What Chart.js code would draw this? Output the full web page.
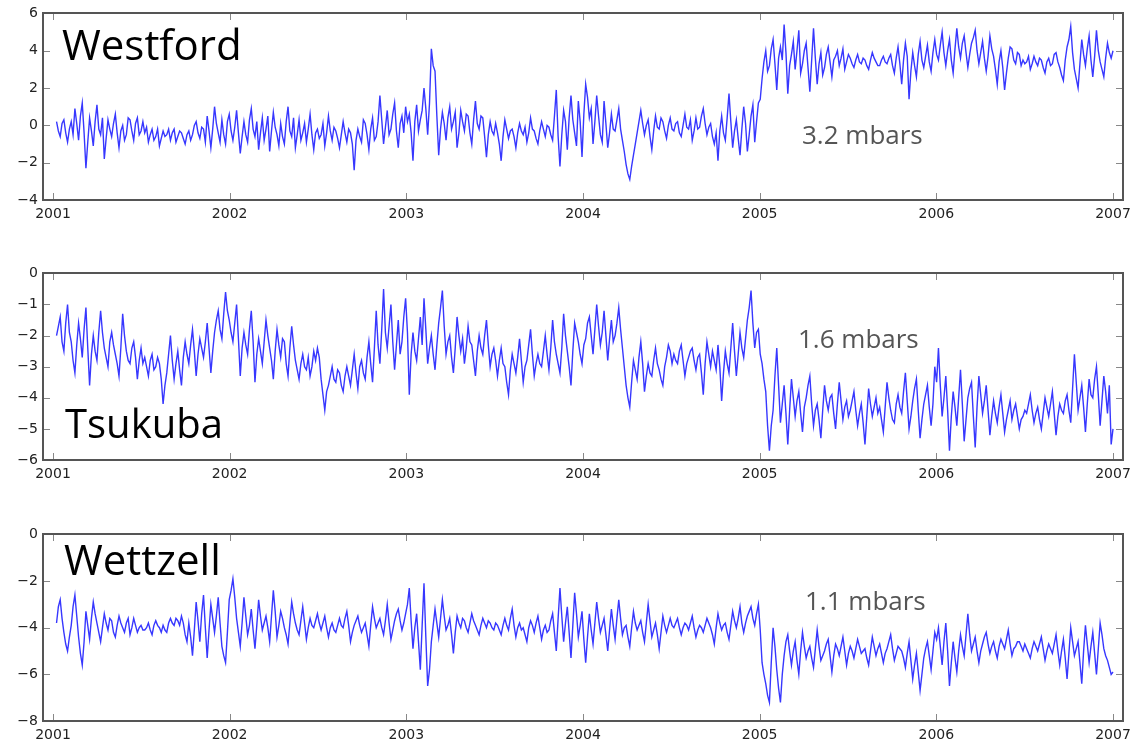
<!DOCTYPE html>
<html>
<head>
<meta charset="utf-8">
<script src="https://cdn.jsdelivr.net/npm/chart.js@4.4.1/dist/chart.umd.min.js"></script>
<style>
    html, body { margin: 0; padding: 0; background: #fff; }
    body { width: 1142px; height: 742px; position: relative; overflow: hidden; }
    canvas { position: absolute; left: 0; }
</style>
</head>
<body>
<canvas id="westford" width="1142" height="230" style="top:0px"></canvas>
<canvas id="tsukuba" width="1142" height="230" style="top:260px"></canvas>
<canvas id="wettzell" width="1142" height="230" style="top:521px"></canvas>
<script>
// year ticks shared by all three panels
const years = [2001, 2002, 2003, 2004, 2005, 2006, 2007];
// first and last sample (decimal year), samples are evenly spaced in between
const firstSample = 2001.02;
const lastSample = 2007.0;

// one row = half a year, 48 samples (mbar)
const westford = [
    0.2, -0.3, -0.6, 0.1, 0.3, -0.4, -0.9, -0.2, 0.2, -0.5, 0.9, 0.1, -0.8, 0.5, 1.2, -0.4, -2.3, -0.9, 0.4, -0.3, -1.1, 0.2, 1.1, -0.2, -0.5, 0.4, -1.8, -0.7, 0.3, -0.2, -0.6, 0.1, 0.6, -0.4, -1.2, -0.3, 0.0, -0.8, -0.5, 0.4, 0.3, -0.3, -0.8, 0.1, 0.4, -0.5, -0.3, 0.2,
    -0.4, -0.1, -0.9, -0.5, -0.2, -0.8, -0.6, -0.2, -1.1, -0.7, -0.3, -0.6, -0.5, -0.2, -0.8, -0.4, -0.2, -0.9, -0.6, -0.3, -0.4, -0.7, -1.0, -0.5, -0.3, -0.8, -0.5, 0.0, 0.2, -0.4, -0.7, -0.1, -0.2, -0.9, 0.5, -0.3, -1.2, -0.2, 1.0, 0.1, -0.4, -0.9, 0.3, -0.5, -1.0, 0.2, 0.6, -0.3,
    -0.8, -0.1, 0.8, -0.4, -1.5, -0.6, 0.2, -0.5, -0.9, 0.3, 0.9, -0.2, -0.6, 0.2, -1.3, -0.4, 0.4, -0.8, -0.2, 0.5, -1.4, -0.3, 0.7, -0.1, -0.5, -1.1, 0.1, -0.6, -1.0, 0.2, 1.0, -0.3, -0.6, 0.4, -1.2, -0.5, 0.3, -0.8, -0.4, 0.1, -0.9, -0.2, 0.6, -0.5, -1.3, -0.4, -0.2, -0.7,
    -0.5, 0.1, -1.1, -0.4, 0.5, -0.3, -0.8, -0.1, -0.3, -0.7, -1.2, -0.5, 0.2, -0.4, -0.9, -0.2, -0.4, -1.0, -2.4, -0.8, -0.2, -0.6, -0.9, 0.3, 0.1, -0.5, -1.3, -0.2, 0.4, -0.8, -0.6, 0.2, 1.6, 0.3, -1.0, -0.1, 0.8, -0.5, -0.2, 0.6, 1.2, -0.3, -1.2, 0.1, 0.5, -0.4, 1.0, 0.2,
    0.6, -0.4, -1.9, 0.2, 1.1, -0.3, 0.3, 0.8, 2.0, 0.9, -0.5, 1.2, 4.1, 3.2, 2.9, 0.5, -1.6, -0.2, 0.7, 0.1, -0.8, 0.4, 1.0, -0.2, 0.2, 0.7, -1.2, -0.4, 0.8, 0.2, -0.3, 0.6, 0.5, -0.4, -1.0, 0.3, 1.3, 0.1, -0.2, 0.5, 0.4, -0.6, -1.7, -0.5, 0.2, -0.3, -0.5, 0.1,
    -0.4, -1.0, -1.9, -0.6, 0.3, -0.2, -0.7, -0.3, -0.2, -0.6, -1.2, -0.4, 0.1, -0.3, -0.5, -0.1, -0.9, -0.4, 0.4, -0.2, -0.3, -0.7, -1.0, -0.3, 0.2, -0.2, -0.6, 0.0, -0.1, -0.5, -0.8, 0.5, 1.9, -0.6, -2.2, -0.5, 0.8, 0.2, -1.3, 0.4, 1.6, 0.3, -0.4, -1.1, 1.3, 0.2, -1.7, 0.6,
    2.2, 1.5, 0.4, 0.9, -1.0, 0.2, 1.6, 0.5, -0.5, -0.9, 1.3, 0.1, -1.2, -0.4, 0.6, -0.2, -0.3, 0.3, 0.9, -0.2, -0.8, -1.4, -2.1, -2.6, -2.9, -2.2, -1.6, -1.0, -0.4, 0.2, 0.8, 0.1, -0.5, 0.0, 0.3, -0.6, -1.3, -0.3, 0.5, -0.1, -0.2, 0.4, 0.2, -0.3, -0.7, 0.0, 0.4, -0.2,
    -0.3, 0.1, 0.2, -0.4, -0.6, 0.0, 0.6, -0.1, -0.2, 0.3, -0.8, -0.3, 0.4, -0.2, -0.1, 0.5, 0.9, 0.1, -0.5, -0.1, 0.1, -0.6, -1.0, -0.4, -1.9, -0.3, 0.5, -0.4, -0.8, 0.4, 1.7, 0.2, -1.2, -0.3, 0.3, -0.7, -1.6, -0.2, 1.0, 0.1, -1.4, -0.5, 0.5, 1.1, -0.9, 0.2, 1.2, 1.4,
    2.5, 3.4, 4.0, 2.9, 3.2, 4.1, 4.6, 3.3, 1.9, 3.6, 4.2, 3.5, 5.4, 3.9, 1.7, 3.2, 3.8, 4.5, 3.0, 4.0, 5.1, 2.8, 3.3, 4.0, 4.4, 3.1, 1.8, 3.5, 5.2, 3.6, 2.2, 3.3, 3.9, 2.7, 3.1, 3.8, 4.2, 3.4, 2.6, 3.5, 3.7, 4.0, 3.2, 3.6, 4.1, 3.0, 3.4, 3.8,
    3.6, 3.3, 3.1, 3.5, 3.8, 3.4, 3.3, 3.6, 3.5, 3.2, 3.0, 3.5, 3.9, 3.6, 3.4, 3.2, 3.2, 3.5, 3.7, 3.4, 3.3, 3.6, 3.8, 3.2, 2.8, 3.6, 4.2, 3.3, 2.2, 3.5, 4.4, 3.7, 1.4, 2.9, 3.9, 3.2, 2.6, 3.8, 4.5, 3.5, 3.1, 3.7, 4.3, 3.4, 2.9, 3.9, 4.6, 3.8,
    3.5, 4.3, 5.0, 3.9, 3.2, 4.0, 4.6, 3.5, 2.8, 4.1, 5.2, 4.2, 3.6, 4.4, 4.8, 3.9, 3.1, 3.8, 4.4, 4.7, 5.1, 4.0, 3.3, 3.9, 4.5, 3.6, 2.9, 3.7, 4.8, 4.1, 3.7, 3.0, 2.2, 3.4, 4.0, 3.1, 1.9, 2.8, 3.6, 4.2, 4.1, 3.5, 3.3, 3.9, 3.8, 3.2, 3.5, 3.3,
    3.4, 3.7, 3.0, 3.3, 3.7, 3.4, 3.2, 3.6, 3.5, 3.1, 2.8, 3.4, 3.6, 3.2, 3.3, 3.8, 3.9, 3.4, 3.1, 2.7, 2.4, 3.5, 4.2, 4.6, 5.3, 3.9, 3.0, 2.5, 2.0, 3.3, 4.6, 3.8, 3.2, 4.1, 4.8, 3.5, 2.6, 3.7, 5.1, 4.0, 3.4, 3.0, 2.6, 3.6, 4.4, 3.9, 3.6, 4.0
];
const tsukuba = [
    -2.0, -1.7, -1.4, -2.2, -2.5, -1.6, -1.0, -1.9, -2.2, -2.8, -3.2, -2.3, -1.6, -2.1, -2.7, -1.8, -1.1, -2.4, -3.6, -2.6, -2.0, -2.5, -2.8, -1.9, -1.2, -1.9, -2.4, -2.7, -3.0, -2.2, -1.9, -2.3, -2.6, -2.9, -3.3, -2.4, -1.3, -2.0, -2.5, -2.8, -2.9, -2.4, -2.2, -2.7, -3.4, -2.8, -2.4, -2.9,
    -2.7, -3.0, -3.3, -2.8, -2.6, -3.1, -3.0, -2.7, -2.9, -3.4, -4.2, -3.6, -3.2, -2.6, -2.0, -2.8, -3.4, -2.9, -2.5, -3.1, -3.6, -2.7, -2.2, -2.6, -2.9, -2.3, -1.8, -2.5, -3.3, -2.6, -2.1, -2.4, -2.7, -2.2, -1.6, -2.4, -3.2, -2.5, -1.9, -1.5, -1.2, -1.8, -2.1, -1.3, -0.6, -1.2, -1.5, -1.9,
    -2.2, -1.6, -1.0, -2.1, -3.3, -2.4, -1.9, -2.3, -2.6, -1.8, -1.2, -2.2, -3.5, -2.6, -2.1, -2.5, -2.9, -2.2, -1.5, -2.0, -2.4, -2.8, -3.4, -2.5, -1.8, -2.3, -2.7, -2.1, -2.2, -2.9, -3.3, -2.4, -1.7, -2.3, -2.8, -3.1, -3.4, -2.9, -2.6, -3.0, -3.1, -2.7, -3.3, -3.0, -2.5, -2.8, -2.4, -2.7,
    -3.4, -3.9, -4.4, -3.8, -3.6, -3.3, -3.0, -3.4, -3.5, -3.1, -3.2, -3.6, -3.8, -3.3, -3.0, -3.3, -3.6, -3.1, -2.6, -3.2, -3.7, -3.0, -2.8, -3.2, -3.4, -2.7, -2.2, -2.9, -3.5, -2.4, -1.2, -2.3, -2.9, -1.8, -0.5, -1.9, -2.4, -1.7, -1.0, -2.2, -3.1, -2.3, -1.5, -2.6, -2.2, -1.4, -0.8, -1.9,
    -3.9, -2.6, -1.9, -2.5, -2.8, -2.1, -1.4, -2.3, -0.8, -1.8, -2.9, -2.4, -2.0, -2.6, -3.1, -2.3, -1.6, -1.1, -0.55, -1.7, -2.6, -2.2, -2.0, -2.7, -3.2, -2.4, -1.4, -2.0, -2.5, -2.1, -2.9, -2.4, -1.7, -2.2, -2.3, -2.8, -3.3, -2.5, -2.0, -2.4, -2.6, -2.0, -1.5, -2.3, -3.0, -2.6, -2.4, -2.8,
    -3.3, -2.8, -2.4, -2.9, -3.0, -3.5, -3.9, -3.1, -2.6, -2.9, -3.2, -2.7, -2.1, -2.8, -3.5, -3.0, -2.8, -2.3, -1.8, -2.6, -3.3, -2.9, -2.6, -2.9, -3.0, -2.5, -2.0, -2.6, -3.1, -2.4, -1.5, -2.2, -2.6, -2.9, -3.2, -2.4, -1.3, -2.0, -2.5, -3.0, -3.6, -2.5, -1.6, -1.9, -2.2, -2.6, -2.9, -2.3,
    -2.1, -1.6, -1.4, -2.0, -2.6, -1.8, -1.0, -1.7, -2.3, -1.9, -1.2, -2.0, -2.8, -2.1, -1.5, -2.2, -2.0, -1.6, -1.1, -1.8, -2.4, -3.0, -3.6, -4.0, -4.3, -3.5, -2.8, -3.1, -3.4, -2.7, -2.2, -2.9, -3.8, -3.3, -2.9, -3.2, -3.3, -2.8, -2.4, -2.9, -3.1, -3.4, -3.6, -3.0, -2.7, -2.3, -2.5, -2.9,
    -2.6, -2.8, -2.9, -2.5, -2.3, -2.8, -3.3, -2.9, -2.7, -2.5, -2.4, -2.8, -3.1, -2.7, -2.6, -3.2, -3.9, -2.9, -2.2, -2.6, -3.0, -2.5, -2.8, -3.1, -2.3, -3.0, -4.1, -3.2, -2.5, -2.9, -3.2, -2.4, -1.6, -2.5, -3.3, -2.6, -1.9, -2.4, -2.7, -2.1, -1.5, -1.1, -0.55, -1.6, -2.4, -1.9, -1.8, -2.6,
    -2.9, -3.4, -3.8, -4.9, -5.7, -4.9, -4.4, -3.3, -2.4, -3.6, -4.8, -4.2, -3.6, -4.5, -5.5, -4.4, -3.4, -4.0, -4.6, -4.1, -3.8, -4.5, -5.1, -4.3, -4.0, -3.6, -3.3, -4.2, -4.9, -4.4, -4.2, -4.7, -5.3, -4.4, -3.6, -4.1, -4.4, -4.0, -3.9, -4.5, -5.0, -4.2, -3.5, -4.1, -4.7, -4.3, -4.1, -4.6,
    -4.4, -4.1, -3.8, -4.4, -4.9, -4.5, -4.2, -4.8, -5.5, -4.6, -3.7, -4.2, -4.6, -4.3, -4.0, -4.5, -4.3, -4.7, -5.1, -4.3, -3.5, -4.0, -4.4, -4.7, -4.8, -4.2, -3.9, -4.3, -4.5, -3.8, -3.2, -4.1, -5.0, -4.6, -4.1, -3.7, -3.4, -4.4, -5.3, -4.7, -4.2, -3.9, -3.6, -4.3, -4.9, -4.2, -3.0, -3.5,
    -2.4, -3.6, -4.6, -4.0, -3.3, -4.4, -5.7, -4.6, -3.8, -4.3, -4.9, -4.0, -3.1, -4.2, -5.4, -4.7, -4.0, -3.7, -3.5, -4.6, -5.6, -4.3, -3.3, -3.9, -4.5, -4.1, -3.6, -4.4, -5.2, -4.6, -4.1, -4.5, -4.8, -4.3, -3.9, -4.5, -5.1, -4.7, -4.4, -4.1, -4.7, -4.4, -4.2, -4.6, -5.0, -4.7, -4.6, -4.4,
    -4.5, -4.2, -3.9, -4.4, -4.8, -4.5, -4.3, -4.7, -5.0, -4.5, -4.0, -4.3, -4.6, -4.2, -3.8, -4.5, -5.2, -4.6, -4.2, -4.4, -4.5, -4.1, -3.9, -4.4, -4.8, -3.7, -2.6, -3.5, -4.4, -4.0, -3.6, -4.3, -5.1, -4.2, -3.4, -3.9, -4.0, -3.4, -3.0, -3.9, -4.9, -4.1, -3.3, -3.8, -4.5, -3.6, -5.5, -5.0
];
const wettzell = [
    -3.8, -3.1, -2.8, -3.6, -4.2, -4.7, -5.0, -4.4, -3.9, -3.1, -2.6, -3.5, -4.4, -5.1, -5.6, -4.6, -3.3, -3.9, -4.5, -3.6, -2.9, -3.4, -3.8, -4.2, -4.6, -4.0, -3.4, -3.8, -4.1, -3.6, -3.7, -4.2, -4.4, -3.9, -3.5, -3.8, -4.0, -4.2, -3.8, -3.6, -4.3, -4.0, -3.6, -3.9, -4.2, -4.0, -3.9, -4.1,
    -4.1, -4.0, -3.8, -4.1, -4.3, -3.9, -3.7, -3.9, -4.0, -4.2, -3.9, -4.1, -4.2, -3.8, -3.6, -3.8, -3.9, -3.6, -3.7, -3.9, -3.5, -3.8, -4.3, -4.6, -3.8, -4.4, -5.2, -4.1, -2.9, -3.7, -4.6, -3.4, -2.6, -4.0, -5.3, -4.1, -3.0, -3.6, -4.2, -3.5, -2.7, -3.8, -4.8, -5.2, -5.5, -4.2, -2.8, -2.4,
    -1.9, -2.7, -3.6, -4.2, -4.8, -3.8, -2.7, -3.5, -4.3, -3.9, -3.2, -4.1, -4.9, -3.9, -2.8, -3.5, -4.1, -3.8, -3.5, -4.0, -4.6, -3.5, -2.4, -3.3, -4.4, -3.9, -3.3, -3.6, -4.0, -4.3, -4.7, -3.8, -2.9, -3.4, -3.8, -4.1, -4.3, -3.7, -3.1, -3.8, -4.5, -4.0, -3.6, -3.9, -4.0, -3.7, -3.4, -3.8,
    -4.1, -3.8, -3.5, -4.0, -4.4, -4.0, -3.8, -4.1, -4.2, -3.9, -3.6, -3.9, -4.0, -3.6, -3.3, -3.9, -4.6, -4.2, -3.9, -3.7, -3.5, -3.9, -4.2, -4.0, -3.8, -4.3, -4.8, -3.9, -3.1, -3.6, -4.0, -3.8, -3.6, -4.0, -4.3, -3.7, -3.0, -3.8, -4.5, -4.1, -3.7, -3.4, -3.2, -3.7, -4.1, -3.8, -3.4, -3.0,
    -2.3, -3.7, -4.9, -4.0, -3.4, -4.6, -5.8, -3.9, -2.1, -4.4, -6.5, -5.8, -4.6, -3.9, -3.2, -3.8, -4.4, -3.6, -2.8, -3.5, -4.1, -3.9, -3.6, -4.3, -5.1, -4.2, -3.5, -3.8, -4.0, -3.6, -3.7, -4.0, -4.2, -3.8, -3.4, -3.7, -3.9, -4.1, -4.3, -3.9, -3.6, -3.8, -4.0, -3.7, -3.8, -4.0, -4.1, -3.8,
    -3.9, -4.1, -4.3, -3.9, -3.6, -3.9, -4.1, -3.6, -3.2, -3.9, -4.4, -4.0, -3.8, -4.1, -4.0, -4.3, -4.6, -4.0, -3.7, -3.9, -4.2, -3.8, -3.5, -4.0, -4.5, -4.1, -3.9, -4.2, -4.1, -3.7, -3.4, -4.2, -5.0, -3.6, -2.3, -3.5, -4.6, -3.8, -3.1, -4.2, -5.3, -3.9, -2.5, -3.4, -4.4, -3.9, -3.3, -4.5,
    -5.5, -4.4, -3.4, -4.1, -4.7, -3.8, -2.9, -3.6, -4.2, -3.9, -3.6, -4.3, -5.0, -4.1, -3.2, -3.9, -4.5, -3.6, -2.8, -3.6, -4.3, -4.0, -3.9, -4.4, -4.8, -4.0, -3.3, -3.8, -4.1, -3.9, -3.7, -4.2, -4.6, -3.8, -3.0, -3.7, -4.4, -4.1, -3.8, -4.3, -4.9, -4.2, -3.5, -3.9, -4.2, -3.9, -3.6, -3.9,
    -4.0, -3.8, -3.6, -4.0, -4.3, -4.0, -3.8, -3.9, -4.1, -3.8, -3.5, -4.0, -4.4, -4.1, -3.9, -4.0, -4.2, -3.9, -3.6, -3.8, -4.0, -4.3, -4.7, -4.0, -3.4, -3.8, -4.1, -3.9, -3.8, -4.2, -4.5, -3.9, -3.3, -3.7, -4.0, -3.6, -3.1, -3.8, -4.2, -3.8, -3.5, -3.3, -3.1, -3.6, -3.9, -3.4, -3.0, -4.1,
    -5.5, -6.0, -6.4, -6.9, -7.2, -5.5, -4.0, -4.8, -5.8, -6.6, -7.2, -6.0, -5.2, -4.6, -4.3, -5.0, -5.6, -5.0, -4.6, -5.4, -6.0, -5.0, -4.2, -4.8, -5.3, -5.0, -4.8, -5.3, -5.7, -4.9, -4.1, -4.8, -5.4, -5.2, -5.0, -4.7, -4.5, -5.2, -5.9, -5.2, -4.7, -4.9, -5.2, -4.8, -4.4, -5.0, -5.6, -5.1,
    -4.8, -5.0, -5.3, -4.9, -4.5, -4.8, -5.1, -5.0, -4.9, -5.3, -5.6, -5.0, -4.4, -4.8, -5.2, -4.9, -4.7, -5.1, -5.5, -5.1, -4.9, -4.6, -4.3, -4.9, -5.4, -5.1, -4.8, -4.9, -5.0, -5.3, -5.7, -5.1, -4.6, -5.4, -6.2, -5.6, -5.1, -5.9, -6.7, -6.0, -5.3, -4.9, -4.6, -5.2, -5.8, -5.0, -4.2, -4.5,
    -4.0, -4.8, -5.6, -4.6, -3.8, -5.0, -6.5, -5.5, -4.6, -5.3, -5.9, -5.0, -4.3, -4.8, -5.2, -4.3, -3.4, -4.3, -5.0, -4.7, -4.4, -5.0, -5.5, -5.0, -4.7, -4.4, -4.2, -4.7, -5.1, -4.8, -4.6, -5.0, -5.3, -4.8, -4.5, -4.7, -4.9, -4.5, -4.1, -4.7, -5.2, -4.9, -4.8, -4.6, -4.6, -4.8, -5.0, -4.7,
    -4.9, -5.1, -5.3, -4.9, -4.6, -4.8, -5.0, -4.7, -4.4, -4.9, -5.4, -5.0, -4.7, -4.9, -5.1, -4.7, -4.3, -5.0, -5.6, -5.0, -4.5, -5.3, -6.2, -5.1, -4.0, -4.6, -5.2, -4.9, -4.6, -5.5, -6.4, -5.0, -3.9, -4.7, -5.5, -4.8, -4.2, -5.1, -6.0, -4.9, -3.8, -4.3, -4.9, -5.2, -5.4, -5.7, -6.0, -5.9
];

// y ticks per panel
const westfordTicks = [-4, -2, 0, 2, 4, 6];
const tsukubaTicks = [-6, -5, -4, -3, -2, -1, 0];
const wettzellTicks = [-8, -6, -4, -2, 0];

const blue = 'rgb(55, 55, 255)';
const frameColor = '#555';
const tickFont = { size: 14, family: "'DejaVu Sans', sans-serif" };

function sampleTimes(n) {
    let step = (lastSample - firstSample) / (n - 1);
    let out = [];
    for (let i = 0; i < n; i++) out.push(firstSample + i * step);
    return out;
}

// matlab-like box with inward ticks on all four sides, plus the overlay texts
const boxPlugin = {
    id: 'boxPlugin',
    afterDraw(chart, args, opts) {
        const ctx = chart.ctx;
        const a = chart.chartArea;
        const l = Math.round(a.left), r = Math.round(a.right);
        const t = Math.round(a.top), b = Math.round(a.bottom);
        ctx.save();
        ctx.strokeStyle = '#888';
        ctx.lineWidth = 1;
        ctx.beginPath();
        chart.scales.x.ticks.forEach(tk => {
            let x = Math.round(chart.scales.x.getPixelForValue(tk.value)) + 0.5;
            ctx.moveTo(x, b); ctx.lineTo(x, b - 7);
            ctx.moveTo(x, t); ctx.lineTo(x, t + 7);
        });
        chart.scales.y.ticks.forEach(tk => {
            let y = Math.round(chart.scales.y.getPixelForValue(tk.value)) + 0.5;
            ctx.moveTo(l, y); ctx.lineTo(l + 7, y);
            ctx.moveTo(r, y); ctx.lineTo(r - 7, y);
        });
        ctx.stroke();
        ctx.strokeStyle = frameColor;
        ctx.lineWidth = 2;
        ctx.strokeRect(l, t, r - l, b - t);
        (opts.texts || []).forEach(tx => {
            ctx.font = tx.size + 'px "Open Sans", sans-serif';
            ctx.fillStyle = tx.color;
            ctx.textBaseline = 'alphabetic';
            ctx.textAlign = 'left';
            ctx.fillText(tx.text, tx.x, tx.y);
        });
        ctx.restore();
    }
};

function makePanel(id, values, yTicks, texts) {
    const times = sampleTimes(values.length);
    const points = values.map((v, i) => ({ x: times[i], y: v }));
    const el = document.getElementById(id);
    return new Chart(el.getContext('2d'), {
        type: 'line',
        data: {
            datasets: [{
                data: points,
                borderColor: blue,
                borderWidth: 1.4,
                pointRadius: 0,
                tension: 0,
                fill: false
            }]
        },
        options: {
            responsive: false,
            animation: false,
            devicePixelRatio: 1,
            layout: { padding: { top: 13, right: 19, bottom: 0, left: 0 } },
            plugins: {
                legend: { display: false },
                tooltip: { enabled: false },
                boxPlugin: { texts: texts }
            },
            scales: {
                x: {
                    type: 'linear',
                    min: 2001 - 10 / 176.7,
                    max: 2007 + 10 / 176.7,
                    grid: { display: false, drawTicks: false },
                    border: { display: false },
                    afterBuildTicks: s => { s.ticks = years.map(v => ({ value: v })); },
                    afterFit: s => { s.height = 30; },
                    ticks: {
                        padding: 6,
                        maxRotation: 0,
                        autoSkip: false,
                        color: '#222',
                        font: tickFont,
                        callback: v => String(v)
                    }
                },
                y: {
                    min: yTicks[0],
                    max: yTicks[yTicks.length - 1],
                    grid: { display: false, drawTicks: false },
                    border: { display: false },
                    afterBuildTicks: s => { s.ticks = yTicks.map(v => ({ value: v })); },
                    afterFit: s => { s.width = 43; },
                    ticks: {
                        padding: 5,
                        color: '#222',
                        font: tickFont,
                        callback: v => (v < 0 ? '\u2212' + Math.abs(v) : String(v))
                    }
                }
            }
        },
        plugins: [boxPlugin]
    });
}

makePanel('westford', westford, westfordTicks, [
    { text: 'Westford', x: 62, y: 60, size: 42, color: '#000' },
    { text: '3.2 mbars', x: 802, y: 144, size: 26, color: '#555' }
]);
makePanel('tsukuba', tsukuba, tsukubaTicks, [
    { text: 'Tsukuba', x: 65, y: 178, size: 40, color: '#000' },
    { text: '1.6 mbars', x: 798, y: 88, size: 26, color: '#555' }
]);
makePanel('wettzell', wettzell, wettzellTicks, [
    { text: 'Wettzell', x: 64, y: 54, size: 42, color: '#000' },
    { text: '1.1 mbars', x: 805, y: 89, size: 26, color: '#555' }
]);
</script>
</body>
</html>
